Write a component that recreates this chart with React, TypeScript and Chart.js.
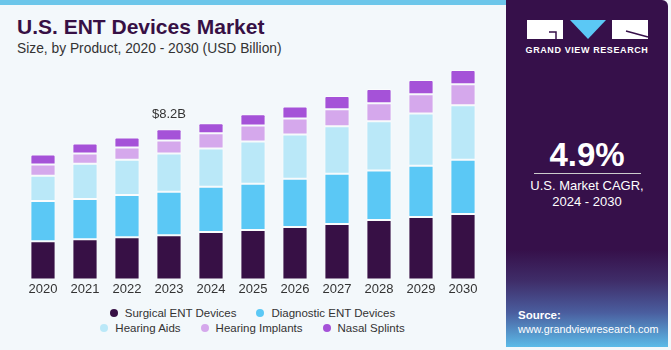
import React, { useEffect, useRef } from "react";
import { Chart, registerables } from "chart.js";

Chart.register(...registerables);

const years = ["2020", "2021", "2022", "2023", "2024", "2025", "2026", "2027", "2028", "2029", "2030"];
const surgical = [2.09, 2.2, 2.31, 2.42, 2.59, 2.7, 2.86, 3.03, 3.25, 3.41, 3.58];
const diagnostic = [2.2, 2.2, 2.31, 2.37, 2.48, 2.53, 2.64, 2.75, 2.7, 2.81, 2.97];
const hearingAids = [1.38, 1.93, 1.93, 2.09, 2.09, 2.31, 2.42, 2.59, 2.7, 2.86, 2.97];
const hearingImplants = [0.61, 0.55, 0.66, 0.72, 0.83, 0.88, 0.88, 0.94, 0.99, 1.05, 1.16];
const nasalSplints = [0.55, 0.55, 0.55, 0.61, 0.55, 0.61, 0.66, 0.72, 0.77, 0.77, 0.77];
const seriesNames = ["Surgical ENT Devices", "Diagnostic ENT Devices", "Hearing Aids", "Hearing Implants", "Nasal Splints"];
const seriesColors = ["#371045", "#5BC8F5", "#BAE8F8", "#D5A8EC", "#A552D8"];
const annotationIndex = 3;
const annotationText = "$8.2B";

const FONT = "'Liberation Sans', Arial, sans-serif";

const labelPlugin = {
  id: "topLabel",
  afterDatasetsDraw(chart: any) {
    const meta = chart.getDatasetMeta(4);
    const bar = meta.data[annotationIndex];
    if (!bar) return;
    const ctx = chart.ctx;
    ctx.save();
    ctx.font = `13px ${FONT}`;
    ctx.fillStyle = "#333333";
    ctx.textAlign = "center";
    ctx.textBaseline = "bottom";
    ctx.fillText(annotationText, bar.x, bar.y - 8);
    ctx.restore();
  },
};

function ChartBox() {
  const ref = useRef<HTMLCanvasElement>(null);
  useEffect(() => {
    const all = [surgical, diagnostic, hearingAids, hearingImplants, nasalSplints];
    const chart = new Chart(ref.current!, {
      type: "bar",
      data: {
        labels: years,
        datasets: all.map((d, i) => ({
          label: seriesNames[i],
          data: d,
          backgroundColor: seriesColors[i],
          borderColor: "rgba(255,255,255,0.55)",
          borderWidth: 1,
          borderSkipped: false,
          borderRadius: i === 4 ? { topLeft: 2, topRight: 2, bottomLeft: 0, bottomRight: 0 } : 0,
          barPercentage: 0.6,
          categoryPercentage: 1,
        })),
      },
      options: {
        animation: false,
        responsive: false,
        maintainAspectRatio: false,
        layout: { padding: { left: 22, right: 21, top: 60, bottom: 0 } },
        plugins: { legend: { display: false }, tooltip: { enabled: false } },
        scales: {
          x: {
            stacked: true,
            grid: { display: false, drawTicks: false },
            border: { display: false },
            ticks: { color: "#333333", font: { family: FONT, size: 13 }, padding: 2 },
          },
          y: { stacked: true, display: false, min: 0, max: 12 },
        },
      },
      plugins: [labelPlugin],
    });
    return () => chart.destroy();
  }, []);
  return (
    <canvas
      ref={ref}
      width={505}
      height={299}
      style={{ position: "absolute", left: 0, top: 0, width: 505, height: 299 }}
    />
  );
}

function Legend() {
  const rows = [[0, 1], [2, 3, 4]];
  return (
    <div style={{ position: "absolute", left: 0, top: 305, width: 505 }}>
      {rows.map((r, ri) => (
        <div
          key={ri}
          style={{
            display: "flex",
            justifyContent: "center",
            gap: 20,
            height: 15,
            alignItems: "center",
            fontFamily: FONT,
            fontSize: 11.5,
            color: "#333",
          }}
        >
          {r.map((i) => (
            <div key={i} style={{ display: "flex", alignItems: "center" }}>
              <span
                style={{
                  display: "inline-block",
                  width: 8,
                  height: 8,
                  borderRadius: 4,
                  background: seriesColors[i],
                  marginRight: 7,
                }}
              />
              <span>{seriesNames[i]}</span>
            </div>
          ))}
        </div>
      ))}
    </div>
  );
}

function Panel() {
  return (
    <div
      style={{
        position: "absolute",
        left: 506,
        top: 0,
        width: 162,
        height: 347,
        background: "linear-gradient(to bottom, #36104a 0%, #36104a 72%, #3f2d69 81%, #4a5d9e 90%, #5cbbe8 100%)",
        borderTopRightRadius: 6,
        overflow: "hidden",
        fontFamily: FONT,
        color: "#fff",
      }}
    >
      <svg width={162} height={60} style={{ position: "absolute", left: 0, top: 0 }}>
        <rect x={21} y={20} width={36} height={19} fill="#fff" />
        <path d="M43 32 L50 32 L50 39" stroke="#36104a" strokeWidth={1.5} fill="none" />
        <polygon points="64,20 100,20 82,39" fill="#5BC8F5" />
        <rect x={106} y={20} width={36} height={19} fill="#fff" />
        <line x1={120} y1={31} x2={142} y2={37} stroke="#36104a" strokeWidth={1.5} />
      </svg>
      <div
        style={{
          position: "absolute",
          left: 0,
          width: 162,
          top: 45,
          textAlign: "center",
          fontSize: 9,
          fontWeight: 700,
          letterSpacing: 0.6,
        }}
      >
        GRAND VIEW RESEARCH
      </div>
      <div
        style={{
          position: "absolute",
          left: 0,
          width: 162,
          top: 136,
          textAlign: "center",
          fontSize: 33,
          fontWeight: 700,
          lineHeight: "38px",
        }}
      >
        4.9%
      </div>
      <div style={{ position: "absolute", left: 28, width: 107, top: 173, height: 1, background: "#ccc" }} />
      <div
        style={{
          position: "absolute",
          left: 0,
          width: 162,
          top: 178,
          textAlign: "center",
          fontSize: 13,
          lineHeight: "16px",
        }}
      >
        U.S. Market CAGR,
        <br />
        2024 - 2030
      </div>
      <div style={{ position: "absolute", left: 12, top: 308, fontSize: 10.8, lineHeight: "14px" }}>
        <div style={{ fontWeight: 700, fontSize: 11.5 }}>Source:</div>
        <div>www.grandviewresearch.com</div>
      </div>
    </div>
  );
}

export default function App() {
  useEffect(() => {
    document.body.style.margin = "0";
  }, []);
  return (
    <div style={{ position: "relative", width: 671, height: 350, background: "#F3F8FB", overflow: "hidden" }}>
      <div style={{ position: "absolute", left: 0, top: 0, width: 506, height: 5, background: "#6CC6EA" }} />
      <div
        style={{
          position: "absolute",
          left: 17,
          top: 16,
          fontFamily: FONT,
          fontWeight: 700,
          fontSize: 21,
          color: "#371045",
          lineHeight: "22px",
        }}
      >
        U.S. ENT Devices Market
      </div>
      <div
        style={{
          position: "absolute",
          left: 17,
          top: 40,
          fontFamily: FONT,
          fontSize: 13.8,
          color: "#333",
          lineHeight: "17px",
        }}
      >
        Size, by Product, 2020 - 2030 (USD Billion)
      </div>
      <ChartBox />
      <Legend />
      <Panel />
    </div>
  );
}
